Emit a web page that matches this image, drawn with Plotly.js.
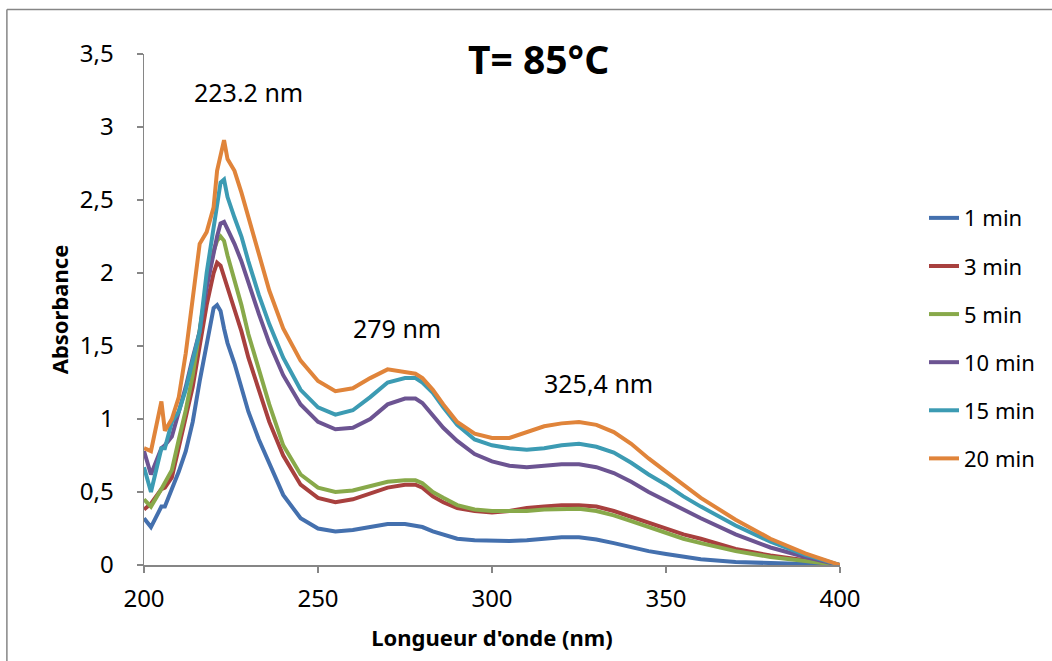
<!DOCTYPE html>
<html>
<head>
<meta charset="utf-8">
<script src="https://cdn.plot.ly/plotly-3.0.1.min.js"></script>
<style>
html,body{margin:0;padding:0;background:#fff;}
#chart{width:1052px;height:661px;}
</style>
</head>
<body>
<div id="chart"></div>
<script>
// Wavelength grid (nm)
const wavelength = [200,202,205,206,208,210,212,214,216,218,220,221,222,223,224,226,228,230,233,236,240,245,250,255,260,265,270,275,278,280,283,286,290,295,300,305,310,315,320,325,330,335,340,345,350,355,360,370,380,390,400];

const seriesNames = ["1 min","3 min","5 min","10 min","15 min","20 min"];

const abs1 = [0.32,0.26,0.40,0.40,0.52,0.64,0.78,0.98,1.26,1.52,1.76,1.78,1.74,1.62,1.52,1.38,1.22,1.05,0.86,0.70,0.48,0.32,0.25,0.23,0.24,0.26,0.28,0.28,0.27,0.26,0.23,0.21,0.18,0.17,0.165,0.165,0.17,0.18,0.19,0.19,0.175,0.15,0.12,0.095,0.075,0.055,0.04,0.02,0.012,0.006,0.0];
const abs3 = [0.38,0.42,0.52,0.53,0.60,0.80,1.00,1.22,1.50,1.78,2.00,2.07,2.05,1.98,1.90,1.75,1.60,1.42,1.20,0.98,0.75,0.55,0.46,0.43,0.45,0.49,0.53,0.55,0.55,0.53,0.47,0.43,0.39,0.37,0.36,0.37,0.39,0.40,0.41,0.41,0.40,0.37,0.33,0.29,0.25,0.21,0.18,0.11,0.065,0.03,0.0];
const abs5 = [0.45,0.40,0.52,0.56,0.65,0.86,1.06,1.30,1.62,1.92,2.15,2.22,2.25,2.22,2.12,1.95,1.78,1.58,1.33,1.10,0.82,0.62,0.53,0.50,0.51,0.54,0.57,0.58,0.58,0.56,0.50,0.46,0.41,0.38,0.37,0.37,0.37,0.38,0.385,0.385,0.37,0.34,0.30,0.26,0.22,0.18,0.15,0.095,0.055,0.025,0.0];
const abs10 = [0.78,0.62,0.80,0.82,0.88,1.05,1.22,1.42,1.60,1.90,2.15,2.25,2.34,2.35,2.30,2.20,2.08,1.93,1.72,1.52,1.30,1.10,0.98,0.93,0.94,1.00,1.10,1.14,1.14,1.11,1.02,0.94,0.85,0.76,0.71,0.68,0.67,0.68,0.69,0.69,0.67,0.63,0.57,0.50,0.44,0.38,0.32,0.21,0.12,0.055,0.0];
const abs15 = [0.67,0.50,0.80,0.80,0.98,1.05,1.20,1.40,1.60,2.00,2.30,2.43,2.62,2.64,2.52,2.38,2.25,2.08,1.85,1.65,1.42,1.20,1.08,1.03,1.06,1.15,1.25,1.28,1.28,1.25,1.18,1.08,0.96,0.86,0.82,0.80,0.79,0.80,0.82,0.83,0.81,0.77,0.70,0.62,0.55,0.47,0.40,0.27,0.16,0.07,0.0];
const abs20 = [0.80,0.78,1.12,0.92,1.00,1.15,1.45,1.85,2.20,2.28,2.45,2.70,2.80,2.91,2.78,2.70,2.55,2.38,2.12,1.88,1.62,1.40,1.26,1.19,1.21,1.28,1.34,1.32,1.31,1.28,1.20,1.10,0.98,0.90,0.87,0.87,0.91,0.95,0.97,0.98,0.96,0.91,0.83,0.73,0.64,0.55,0.46,0.31,0.18,0.08,0.0];

const seriesValues = [abs1, abs3, abs5, abs10, abs15, abs20];
const seriesColors = ["#4470AE","#A8403E","#88A94A","#6C5492","#3C9BB3","#E0843A"];

const peakLabels = ["223.2 nm","279 nm","325,4 nm"];
const peakLabelX = [230, 272.8, 330.5];
const peakLabelY = [3.24, 1.62, 1.25];

const FONT = "Noto Sans, Open Sans, sans-serif";

const traces = seriesValues.map((v, i) => ({
  x: wavelength,
  y: v,
  type: "scatter",
  mode: "lines",
  name: seriesNames[i],
  legendgroup: "g" + i,
  line: {color: seriesColors[i], width: 4}
}));

const annotations = peakLabels.map((t, i) => ({
  text: t, x: peakLabelX[i], y: peakLabelY[i], xref: "x", yref: "y",
  showarrow: false, font: {family: FONT, size: 25, color: "#000"}
}));

const layout = {
  width: 1052, height: 661,
  margin: {l: 144, r: 212, t: 54, b: 96},
  paper_bgcolor: "#fff", plot_bgcolor: "#fff",
  separators: ", ",
  showlegend: true,
  title: {text: "<b>T= 85°C</b>", font: {family: FONT, size: 39, color: "#000"}, x: 0.512, xanchor: "center", y: 0.908, yanchor: "middle"},
  xaxis: {
    range: [200, 400], dtick: 50, tick0: 200,
    showgrid: false, zeroline: false, showline: true, linecolor: "#868686", linewidth: 1.5,
    ticks: "outside", ticklen: 6, tickcolor: "#868686", tickwidth: 1.5,
    ticklabelstandoff: 6,
    tickfont: {family: FONT, size: 24, color: "#000"},
    title: {text: "<b>Longueur d'onde (nm)</b>", font: {family: FONT, size: 22, color: "#000"}, standoff: 17}
  },
  yaxis: {
    range: [0, 3.5], dtick: 0.5, tick0: 0,
    showgrid: false, zeroline: false, showline: true, linecolor: "#868686", linewidth: 1.5,
    ticks: "outside", ticklen: 6, tickcolor: "#868686", tickwidth: 1.5,
    ticklabelstandoff: 18,
    tickfont: {family: FONT, size: 24, color: "#000"},
    title: {text: "<b>Absorbance</b>", font: {family: FONT, size: 22, color: "#000"}, standoff: 5}
  },
  legend: {
    x: 1.1207, xanchor: "left", y: 0.72, yanchor: "top",
    traceorder: "grouped", tracegroupgap: 16.5,
    font: {family: FONT, size: 22, color: "#000"},
    bgcolor: "rgba(0,0,0,0)"
  },
  annotations: annotations,
  shapes: [
    {type: "line", xref: "paper", yref: "paper", x0: -0.197, x1: -0.197, y0: 1.087, y1: -0.3, line: {color: "#868686", width: 1.5}},
    {type: "line", xref: "paper", yref: "paper", x0: -0.197, x1: 1.4, y0: 1.087, y1: 1.087, line: {color: "#868686", width: 1.5}}
  ]
};

Plotly.newPlot("chart", traces, layout, {displayModeBar: false, staticPlot: true});
</script>
</body>
</html>
